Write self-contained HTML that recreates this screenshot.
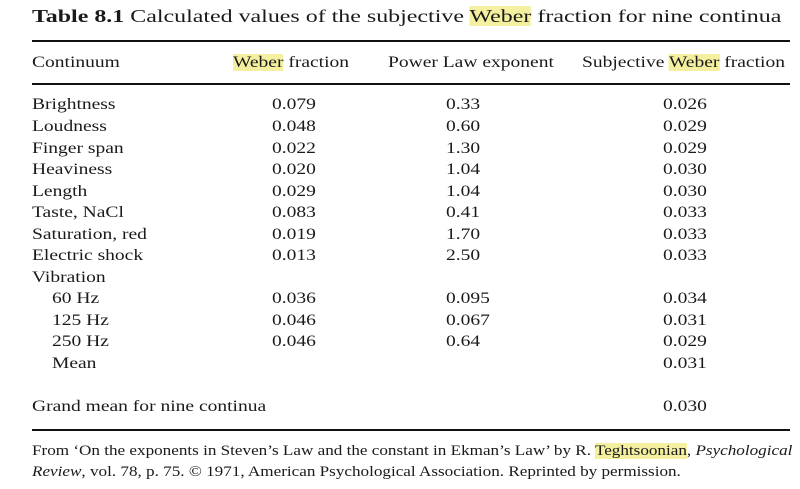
<!DOCTYPE html>
<html><head><meta charset="utf-8"><style>
body{margin:0;background:#fff;}
#c{position:relative;width:800px;height:489px;background:#fff;font-family:"Liberation Serif",serif;color:#1a1a1a;font-size:16px;overflow:hidden}
#c div{position:absolute;line-height:20px;white-space:nowrap;transform:scaleX(1.22);transform-origin:0 50%}
#c div.r{transform:none;height:2px;background:#111;left:32px;width:758px}
.hl{background:#f4f0a0}
.w{left:272px}.p{left:446px}.s{left:663px}
</style></head><body><div id="c">
<div style="left:32px;top:6px;font-size:18px;transform:scaleX(1.33)"><b>Table 8.1</b> Calculated values of the subjective <span class="hl">Weber</span> fraction for nine continua</div>
<div class="r" style="top:40px"></div>
<div style="left:32px;top:53px">Continuum</div>
<div style="left:233px;top:53px"><span class="hl">Weber</span> fraction</div>
<div style="left:388px;top:53px">Power Law exponent</div>
<div style="left:582px;top:53px">Subjective <span class="hl">Weber</span> fraction</div>
<div class="r" style="top:83px;height:1.5px"></div>

<div style="left:32px;top:95px">Brightness</div><div class="w" style="top:95px">0.079</div><div class="p" style="top:95px">0.33</div><div class="s" style="top:95px">0.026</div>
<div style="left:32px;top:117px">Loudness</div><div class="w" style="top:117px">0.048</div><div class="p" style="top:117px">0.60</div><div class="s" style="top:117px">0.029</div>
<div style="left:32px;top:139px">Finger span</div><div class="w" style="top:139px">0.022</div><div class="p" style="top:139px">1.30</div><div class="s" style="top:139px">0.029</div>
<div style="left:32px;top:160px">Heaviness</div><div class="w" style="top:160px">0.020</div><div class="p" style="top:160px">1.04</div><div class="s" style="top:160px">0.030</div>
<div style="left:32px;top:182px">Length</div><div class="w" style="top:182px">0.029</div><div class="p" style="top:182px">1.04</div><div class="s" style="top:182px">0.030</div>
<div style="left:32px;top:203px">Taste, NaCl</div><div class="w" style="top:203px">0.083</div><div class="p" style="top:203px">0.41</div><div class="s" style="top:203px">0.033</div>
<div style="left:32px;top:225px">Saturation, red</div><div class="w" style="top:225px">0.019</div><div class="p" style="top:225px">1.70</div><div class="s" style="top:225px">0.033</div>
<div style="left:32px;top:246px">Electric shock</div><div class="w" style="top:246px">0.013</div><div class="p" style="top:246px">2.50</div><div class="s" style="top:246px">0.033</div>
<div style="left:32px;top:268px">Vibration</div>
<div style="left:52px;top:289px">60 Hz</div><div class="w" style="top:289px">0.036</div><div class="p" style="top:289px">0.095</div><div class="s" style="top:289px">0.034</div>
<div style="left:52px;top:311px">125 Hz</div><div class="w" style="top:311px">0.046</div><div class="p" style="top:311px">0.067</div><div class="s" style="top:311px">0.031</div>
<div style="left:52px;top:332px">250 Hz</div><div class="w" style="top:332px">0.046</div><div class="p" style="top:332px">0.64</div><div class="s" style="top:332px">0.029</div>
<div style="left:52px;top:354px">Mean</div><div class="s" style="top:354px">0.031</div>
<div style="left:32px;top:397px">Grand mean for nine continua</div><div class="s" style="top:397px">0.030</div>
<div class="r" style="top:429px"></div>
<div style="left:32px;top:441px;font-size:14.5px;transform:scaleX(1.18)">From ‘On the exponents in Steven’s Law and the constant in Ekman’s Law’ by R. <span class="hl">Teghtsoonian</span>, <i>Psychological</i></div>
<div style="left:32px;top:462px;font-size:14.5px;transform:scaleX(1.18)"><i>Review</i>, vol. 78, p. 75. © 1971, American Psychological Association. Reprinted by permission.</div>
</div></body></html>
